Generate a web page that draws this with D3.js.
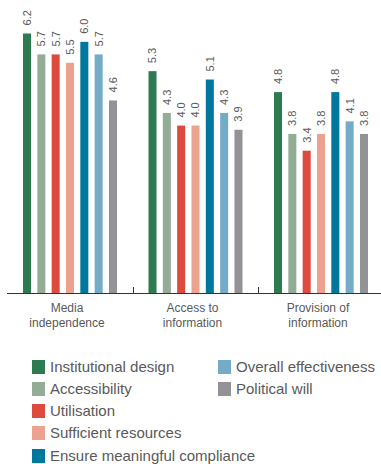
<!DOCTYPE html>
<html>
<head>
<meta charset="utf-8">
<script src="https://cdn.jsdelivr.net/npm/d3@7"></script>
<style>
  html, body { margin: 0; padding: 0; background: #fff; }
  svg { display: block; font-family: "Liberation Sans", Arial, sans-serif; }
</style>
</head>
<body>
<svg id="chart" width="381" height="464"></svg>
<script>
// Indicator groups along the x axis (two-line labels)
const categories = ["Media independence", "Access to information", "Provision of information"];
const categoryLines = [["Media", "independence"], ["Access to", "information"], ["Provision of", "information"]];

// Series (dimensions) and their colours
const seriesNames = [
  "Institutional design",
  "Accessibility",
  "Utilisation",
  "Sufficient resources",
  "Ensure meaningful compliance",
  "Overall effectiveness",
  "Political will"
];
const seriesColors = ["#2e7a51", "#93ac95", "#dc4b3e", "#eda18f", "#00789d", "#74abc7", "#939397"];

// Scores per series, one value per category
const institutionalDesign = [6.2, 5.3, 4.8];
const accessibility       = [5.7, 4.3, 3.8];
const utilisation         = [5.7, 4.0, 3.4];
const sufficientResources = [5.5, 4.0, 3.8];
const meaningfulCompliance= [6.0, 5.1, 4.8];
const overallEffectiveness= [5.7, 4.3, 4.1];
const politicalWill       = [4.6, 3.9, 3.8];

const seriesValues = [institutionalDesign, accessibility, utilisation, sufficientResources,
                      meaningfulCompliance, overallEffectiveness, politicalWill];

const svg = d3.select("#chart");
const baseY = 293;

const x0 = d3.scaleBand().domain(categories).range([7.25, 383.75]).padding(0);
const x1 = d3.scaleBand().domain(seriesNames).range([0, x0.bandwidth()])
  .paddingInner(0.44).paddingOuter(1.1);
const y = d3.scaleLinear().domain([0, 7]).range([baseY, 0]);

const textColor = "#595959";

// Bars
const groups = svg.append("g").selectAll("g")
  .data(categories)
  .join("g")
  .attr("transform", d => `translate(${x0(d)},0)`);

groups.each(function(cat, ci) {
  const g = d3.select(this);
  const rows = seriesNames.map((s, si) => ({ s, v: seriesValues[si][ci], c: seriesColors[si] }));
  g.selectAll("rect").data(rows).join("rect")
    .attr("x", d => x1(d.s))
    .attr("width", x1.bandwidth())
    .attr("y", d => y(d.v))
    .attr("height", d => y(0) - y(d.v))
    .attr("fill", d => d.c);
  g.selectAll("text.val").data(rows).join("text")
    .attr("class", "val")
    .attr("transform", d => `translate(${x1(d.s) + x1.bandwidth() / 2},${y(d.v) - 8}) rotate(-90)`)
    .attr("dy", "0.35em")
    .attr("text-anchor", "start")
    .attr("font-size", 11)
    .attr("fill", textColor)
    .text(d => d.v.toFixed(1));
});

// Axis line and separators between groups
svg.append("line")
  .attr("x1", 7).attr("x2", 381)
  .attr("y1", baseY + 0.5).attr("y2", baseY + 0.5)
  .attr("stroke", "#333").attr("stroke-width", 1);

categories.slice(1).forEach(c => {
  const xs = Math.round(x0(c)) + 0.5;
  svg.append("line")
    .attr("x1", xs).attr("x2", xs)
    .attr("y1", baseY - 6).attr("y2", baseY)
    .attr("stroke", "#333").attr("stroke-width", 1);
});

// Category labels
categories.forEach((c, i) => {
  const t = svg.append("text")
    .attr("x", x0(c) + x0.bandwidth() / 2 - 3)
    .attr("y", 312)
    .attr("text-anchor", "middle")
    .attr("font-size", 12)
    .attr("fill", textColor);
  categoryLines[i].forEach((line, li) => {
    t.append("tspan")
      .attr("x", x0(c) + x0.bandwidth() / 2 - 3)
      .attr("dy", li === 0 ? 0 : 15)
      .text(line);
  });
});

// Legend: two columns
const legendCols = [[0, 1, 2, 3, 4], [5, 6]];
const colX = [32, 218];
const rowY = [367, 389, 411, 433, 456];
legendCols.forEach((col, ci) => {
  col.forEach((si, ri) => {
    const g = svg.append("g").attr("transform", `translate(${colX[ci]},${rowY[ri]})`);
    g.append("rect").attr("x", 0).attr("y", -7).attr("width", 13).attr("height", 14)
      .attr("fill", seriesColors[si]);
    g.append("text").attr("x", 18).attr("y", 0).attr("dy", "0.35em")
      .attr("font-size", 15).attr("fill", textColor)
      .text(seriesNames[si]);
  });
});
</script>
</body>
</html>
